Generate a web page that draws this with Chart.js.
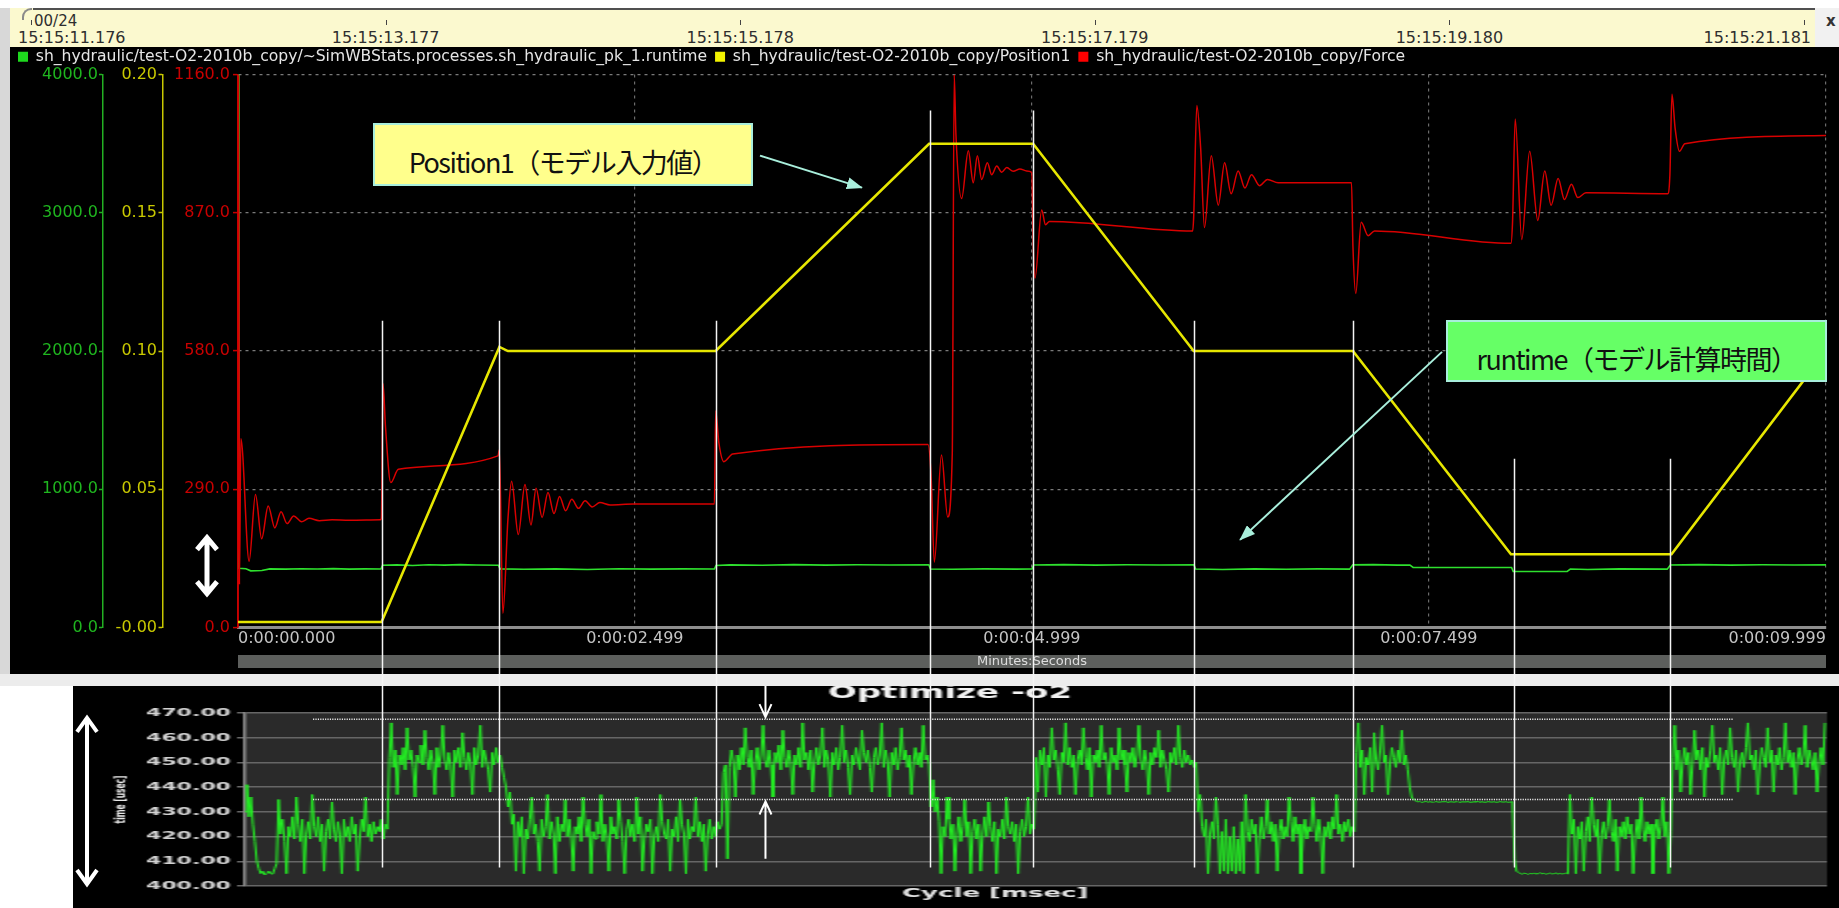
<!DOCTYPE html>
<html><head><meta charset="utf-8">
<script src="https://cdn.jsdelivr.net/npm/chart.js@4.4.1/dist/chart.umd.min.js"></script>
<style>
html,body{margin:0;padding:0;background:#fff;}
body{position:relative;width:1839px;height:908px;overflow:hidden;font-family:"DejaVu Sans",sans-serif;}
.abs{position:absolute;}
#leftstrip{left:0;top:8px;width:10px;height:666px;background:#d8d8d8;}
#nav{left:10px;top:8px;width:1805px;height:39px;background:#fbf9cf;z-index:3;overflow:hidden;}
#navline{left:23px;top:0;width:1782px;height:2px;background:#505050;}
#navcorner{left:12px;top:0;width:10px;height:12px;border-top:2px solid #8a8a8a;border-left:2px solid #8a8a8a;border-top-left-radius:9px;box-sizing:border-box;}
.navtick{top:12px;width:1px;height:5px;background:#444;}
.navlab{top:21px;font-size:16px;line-height:18px;color:#2e2e2e;white-space:nowrap;}
#navend{left:1815px;top:8px;width:24px;height:39px;background:#f1f1f1;z-index:3;}
#close{left:1826px;top:12px;font-weight:bold;font-size:15px;color:#333;z-index:4;}
#topcv{left:10px;top:41px;background:#000;z-index:1;}
#band{left:0;top:674px;width:1839px;height:12px;background:#ececec;z-index:4;}
#botcv{left:73px;top:676px;background:#000;transform:scaleX(2);transform-origin:0 0;z-index:2;}
#ov{left:0;top:0;z-index:5;pointer-events:none;}
.callout{position:absolute;z-index:6;box-sizing:border-box;border:2px solid #a8eedc;display:flex;align-items:center;justify-content:center;font-family:"Noto Sans CJK JP",sans-serif;font-size:27px;line-height:30px;color:#111;letter-spacing:-1.5px;white-space:nowrap;}
</style></head>
<body>
<div id="leftstrip" class="abs"></div>
<div id="nav" class="abs"><div id="navcorner" class="abs"></div><div id="navline" class="abs"></div></div>
<div id="navend" class="abs"></div>
<div id="close" class="abs">x</div>
<canvas id="topcv" class="abs" width="1829" height="633"></canvas>
<div id="band" class="abs"></div>
<canvas id="botcv" class="abs" width="883" height="232"></canvas>
<svg id="ov" class="abs" width="1839" height="908" xmlns="http://www.w3.org/2000/svg"></svg>
<div class="callout" style="left:373px;top:123px;width:380px;height:63px;background:#ffff8c;padding-top:14px;">Position1（モデル入力値）</div>
<div class="callout" style="left:1446px;top:320px;width:381px;height:62px;background:#66ff66;padding-top:16px;">runtime（モデル計算時間）</div>
<script>
// ---------- data ----------
const navTimes = [11.176, 13.177, 15.178, 17.179, 19.180, 21.181];
const navLabels = ['15:15:11.176', '15:15:13.177', '15:15:15.178', '15:15:17.179', '15:15:19.180', '15:15:21.181'];
const navCounter = '00/24';

const xTickValues = [0, 2.499, 4.999, 7.499, 9.999];
const xTickLabels = ['0:00:00.000', '0:00:02.499', '0:00:04.999', '0:00:07.499', '0:00:09.999'];

const runtimeLabel = 'sh_hydraulic/test-O2-2010b_copy/~SimWBStats.processes.sh_hydraulic_pk_1.runtime';
const positionLabel = 'sh_hydraulic/test-O2-2010b_copy/Position1';
const forceLabel = 'sh_hydraulic/test-O2-2010b_copy/Force';

// runtime (top chart, usec)
const rtT = [0,0.006,0.05,0.08,0.15,0.2,0.3,0.4,0.5,0.6,0.7,0.8,0.9,
  0.91,1.0,1.1,1.2,1.3,1.4,1.5,1.64,
  1.65,1.8,2.0,2.2,2.4,2.6,2.8,3.0,
  3.01,3.1,3.3,3.5,3.7,3.9,4.1,4.35,
  4.36,4.5,4.7,4.9,5.0,
  5.01,5.2,5.4,5.6,5.8,6.02,
  6.03,6.2,6.4,6.6,6.8,7.0,
  7.02,7.15,7.3,7.38,7.4,7.7,8.02,
  8.03,8.2,8.37,8.39,8.5,8.7,9.0,
  9.02,9.2,9.4,9.6,9.8,10.0];
const rtV = [4000,428,425,410,412,424,422,425,423,426,422,424,423,
  450,453,449,454,451,455,452,450,
  424,421,424,420,425,422,424,423,
  448,453,450,455,451,454,452,454,
  423,421,424,422,423,
  452,455,451,454,452,453,
  423,420,424,421,424,422,
  453,455,451,452,435,434,434,
  406,405,406,423,420,424,422,
  452,455,451,454,452,453];

// Position1
const posT = [0, 0.03, 0.904, 1.646, 1.7, 3.008, 4.352, 5.007, 6.018, 7.021, 8.016, 9.027, 10.0];
const posV = [0.002, 0.002, 0.002, 0.1015, 0.1, 0.1, 0.175, 0.175, 0.1, 0.1, 0.0265, 0.0265, 0.1];

// Force
const fT = [0,0.004,0.009,0.018,0.07,0.11,0.149,0.19,0.232,0.271,0.309,0.351,0.40,0.447,0.512,0.592,0.70,0.897,
  0.903,0.913,0.929,0.962,1.01,1.637,
  1.646,1.668,1.70,1.723,1.765,1.807,1.845,1.877,1.915,1.952,1.99,2.025,2.063,2.102,2.144,2.186,2.23,2.279,2.343,2.49,3.0,
  3.008,3.028,3.06,3.115,4.345,
  4.364,4.385,4.43,4.469,4.498,4.51,4.521,4.557,4.599,4.63,4.656,4.683,4.719,4.746,4.778,4.809,4.841,4.882,4.924,4.966,4.998,
  5.008,5.019,5.061,5.085,5.11,6.012,
  6.018,6.038,6.062,6.086,6.129,6.173,6.213,6.254,6.298,6.341,6.382,6.433,6.483,6.55,7.012,
  7.021,7.039,7.073,7.117,7.157,8.016,
  8.026,8.043,8.084,8.134,8.185,8.229,8.269,8.313,8.353,8.397,8.437,8.488,9.003,
  9.017,9.03,9.05,9.077,9.111,10.0];
const fV = [0,1160,90,396,139,279,186,255,209,243,218,234,222,229,224,226,225,226,
  230,512,420,304,332,360,
  373,30,228,307,195,300,215,292,231,283,239,275,245,269,250,266,253,262,257,259,259,
  454,388,348,364,384,
  322,137,362,232,366,1160,1034,900,1000,933,990,940,975,950,968,955,965,957,962,958,955,
  800,733,876,845,852,832,
  860,1095,1006,839,990,886,975,910,958,922,950,927,940,933,933,
  800,701,850,822,832,806,
  850,1067,814,999,854,958,886,942,898,930,902,912,910,
  950,1119,1047,999,1015,1032];

// bottom chart: runtime per cycle (usec), one value every 12.5 ms
const cycleStep = 0.0125;
const cycleUsec = [
  // 0.00 - 0.90 s
  430,441,428,436,425,418,410,407,405,406,404.5,405,406,405,404.8,407,409,
  435,421,427,418,405,424,420,428,419,436,425,418,427,405,421,426,419,437,424,420,428,418,425,406,422,427,419,434,423,418,426,421,405,427,420,424,418,428,421,425,406,419,427,422,436,420,425,418,426,421,424,422,427,419,425,423,
  // 0.91 - 1.66 s
  452,466,448,455,437,453,449,456,447,464,451,455,448,436,453,450,457,449,463,452,
  447,455,450,437,456,448,453,465,451,447,454,449,436,455,450,456,448,462,452,447,
  454,450,437,456,449,453,465,448,455,451,447,438,454,449,456,450,453,448,444,440,
  // 1.66 - 3.02 s
  432,438,425,429,406,426,420,428,405,423,419,427,436,421,425,418,406,427,420,424,
  437,419,426,421,405,428,418,425,422,435,420,427,419,406,424,421,428,418,436,425,
  420,427,405,422,419,426,421,437,418,425,420,406,428,421,424,419,435,426,418,405,
  423,427,420,425,418,436,421,428,406,419,425,422,427,405,420,424,418,437,426,421,
  419,427,406,423,420,428,418,435,425,421,405,427,419,424,422,436,420,426,418,425,
  406,421,427,419,424,420,426,423,425,
  // 3.02 - 4.33 s
  446,449,411,448,455,450,436,453,447,456,449,464,452,448,455,437,450,456,447,453,
  465,451,448,455,449,436,454,450,457,447,463,452,448,455,450,437,453,449,456,448,
  466,451,454,447,455,438,450,456,449,453,464,448,455,451,436,454,449,456,447,452,
  465,450,455,448,437,453,449,456,451,447,463,454,450,455,448,438,452,456,449,453,
  466,448,455,450,436,454,449,456,447,452,464,451,455,448,453,437,450,456,449,454,
  448,465,451,453,449,
  // 4.33 - 5.00 s
  432,443,430,436,426,405,424,420,436,427,419,425,406,421,428,418,424,435,420,426,
  405,422,427,419,425,406,421,428,420,434,424,418,426,405,423,420,427,419,436,424,
  421,426,418,425,405,422,427,420,424,436,421,425,423,
  // 5.00 - 6.02 s
  452,438,455,449,456,436,453,448,464,451,455,447,437,454,450,466,449,456,448,453,
  437,451,455,449,464,452,447,456,436,453,450,455,448,465,451,454,449,437,456,450,
  453,447,464,451,455,449,438,454,450,456,448,453,465,451,447,455,450,437,454,449,
  456,452,463,448,455,451,447,438,454,450,456,449,465,452,448,455,450,453,449,451,
  448,450,
  // 6.02 - 7.02 s
  430,437,424,420,427,405,421,426,419,436,425,405,422,406,427,405,420,406,424,405,
  419,406,426,405,437,422,418,427,421,425,405,420,428,419,424,435,421,426,418,425,
  406,422,427,419,424,420,436,426,418,428,421,425,405,420,427,419,424,422,436,425,
  418,427,421,405,424,420,426,419,428,423,437,421,425,418,426,422,427,420,424,422,
  // 7.02 - 7.38 s
  454,466,448,455,437,452,449,456,438,462,451,447,455,465,450,453,437,449,456,452,
  448,455,450,463,449,453,447,440,436,
  // 7.39 - 8.01 s
  435,434.5,434,434.2,433.8,434,434.3,433.9,434.1,434,433.8,434.2,434,433.9,434.1,434,434.3,433.8,434,434.1,
  433.9,434,434.2,433.8,434,434.1,433.9,434.2,434,433.8,434.1,434,434.3,433.9,434,434.1,433.8,434,434.2,433.9,
  434,434.1,433.8,434,434.2,433.9,434,434.1,433.8,434,434.1,
  // 8.02 - 8.36 s
  411,406,405.5,405,404.8,405.2,405,404.7,405.1,404.9,405.3,404.8,405,405.4,404.9,405.1,404.8,405,405.2,404.9,
  405,405.3,404.8,405.1,404.9,405,405.2,404.9,
  // 8.37 - 9.01 s
  437,421,427,405,424,419,426,406,422,428,418,436,425,420,427,405,421,426,419,424,
  435,422,418,427,406,424,420,426,419,428,421,425,405,420,427,419,436,423,418,426,
  421,425,405,422,427,419,424,436,420,426,405,422,
  // 9.02 - 10.0 s
  452,465,447,455,438,450,456,449,454,437,449,463,451,455,447,456,436,452,448,455,
  465,450,453,447,456,437,451,455,449,464,452,448,455,438,450,454,448,456,466,451,
  453,447,455,437,449,456,452,448,464,450,455,438,453,449,456,447,452,466,450,455,
  448,454,437,451,456,449,453,465,448,455,451,447,454,438,450,456,449,466
];

// annotation anchors
const markerTimes = [0.907, 1.644, 3.01, 4.36, 5.006, 6.02, 7.02, 8.035, 9.02];
const markerTopPos = [0.111, 0.111, 0.111, 0.187, 0.187, 0.111, 0.111, 0.061, 0.061];
const markerBottomUsec = 407.5;
const refLinesUsec = [467.5, 435];

// ---------- helpers ----------
const pts = (xs, ys) => xs.map((x, i) => ({x: x, y: ys[i]}));
Chart.defaults.font.family = '"DejaVu Sans", sans-serif';

// navigator bar
(function buildNav(){
  const nav = document.getElementById('nav');
  const x0 = 21, x1 = 1794;
  const px = t => x0 + (t - navTimes[0]) * (x1 - x0) / (navTimes[navTimes.length-1] - navTimes[0]);
  navTimes.forEach((t, i) => {
    const tk = document.createElement('div'); tk.className = 'abs navtick'; tk.style.left = px(t) + 'px'; nav.appendChild(tk);
    const lb = document.createElement('div'); lb.className = 'abs navlab'; lb.textContent = navLabels[i];
    if (i === 0) { lb.style.left = '8px'; }
    else if (i === navTimes.length - 1) { lb.style.left = (px(t) + 7) + 'px'; lb.style.transform = 'translateX(-100%)'; }
    else { lb.style.left = px(t) + 'px'; lb.style.transform = 'translateX(-50%)'; }
    nav.appendChild(lb);
  });
  const c = document.createElement('div'); c.className = 'abs'; c.textContent = navCounter;
  c.style.cssText = 'left:24px;top:5px;font-size:15px;line-height:17px;color:#2e2e2e;';
  nav.appendChild(c);
})();

// ---------- top chart ----------
const axisBarPlugin = {
  id: 'axisBar',
  beforeDraw(c) {
    const {ctx, chartArea: a} = c; const s = c.scales.x;
    ctx.save(); ctx.fillStyle = '#5d5f5d';
    ctx.fillRect(a.left, s.bottom - 19, a.right - a.left, 13);
    ctx.restore();
  }
};

const topChart = new Chart(document.getElementById('topcv'), {
  type: 'line',
  data: { datasets: [
    {label: runtimeLabel, data: pts(rtT, rtV), yAxisID: 'yG', borderColor: '#2ee02e', backgroundColor: '#1ed81e', borderWidth: 1.6, pointRadius: 0, order: 2},
    {label: positionLabel, data: pts(posT, posV), yAxisID: 'yY', borderColor: '#e6e600', backgroundColor: '#f2f200', borderWidth: 2.6, pointRadius: 0, order: 0},
    {label: forceLabel, data: pts(fT, fV), yAxisID: 'yR', borderColor: '#d80000', backgroundColor: '#ff0000', borderWidth: 1.5, pointRadius: 0, order: 1, cubicInterpolationMode: 'monotone'}
  ]},
  options: {
    responsive: false, animation: false, events: [],
    layout: {padding: {left: 0, right: 13, top: 0, bottom: 0}},
    elements: {line: {tension: 0}},
    plugins: {
      tooltip: {enabled: false},
      legend: {display: true, position: 'top', align: 'start',
        labels: {color: '#e6e6e6', font: {size: 15.6}, boxWidth: 10, boxHeight: 10, padding: 8,
          sort: (a, b) => a.datasetIndex - b.datasetIndex,
          generateLabels: ch => Chart.defaults.plugins.legend.labels.generateLabels(ch).map(l => Object.assign(l, {lineWidth: 0, strokeStyle: l.fillStyle}))}}
    },
    scales: {
      x: {type: 'linear', position: 'bottom', min: 0, max: 10,
        afterBuildTicks: s => { s.ticks = xTickValues.map(v => ({value: v})); },
        afterFit: s => { s.height = 46.5; },
        ticks: {autoSkip: false, maxRotation: 0, minRotation: 0, align: 'inner', color: '#c4c4c4', font: {size: 16}, padding: 2,
          callback: (v, i) => xTickLabels[i]},
        grid: {drawTicks: false, color: c => c.index === 0 ? 'rgba(0,0,0,0)' : '#6c6c6c', lineWidth: 1.2},
        border: {color: '#8e8e8e', width: 3, dash: [3, 4]},
        title: {display: true, text: 'Minutes:Seconds', color: '#dedede', font: {size: 13}, padding: {top: 0, bottom: 4.7}}
      },
      yG: {type: 'linear', position: 'left', weight: 3, min: 0, max: 4000,
        afterFit: s => { s.width = 93; },
        ticks: {stepSize: 1000, color: '#1fb51f', font: {size: 16}, padding: 1, callback: v => v.toFixed(1)},
        grid: {drawOnChartArea: false, drawTicks: true, tickLength: 4, tickColor: '#22b022', tickWidth: 1.5},
        border: {color: '#22b022', width: 1.5}
      },
      yY: {type: 'linear', position: 'left', weight: 2, min: 0, max: 0.2,
        afterFit: s => { s.width = 59.5; },
        ticks: {stepSize: 0.05, color: '#c8c800', font: {size: 16}, padding: 1.5, callback: v => (v === 0 ? '-0.00' : v.toFixed(2))},
        grid: {drawOnChartArea: false, drawTicks: true, tickLength: 4, tickColor: '#c8c800', tickWidth: 1.5},
        border: {color: '#c8c800', width: 1.5}
      },
      yR: {type: 'linear', position: 'left', weight: 1, min: 0, max: 1160,
        afterFit: s => { s.width = 75.5; },
        ticks: {stepSize: 290, color: '#c80000', font: {size: 16}, padding: 3, callback: v => v.toFixed(1)},
        grid: {drawOnChartArea: true, color: '#7a7a7a', lineWidth: 1.2, drawTicks: true, tickLength: 5, tickColor: '#c80000', tickWidth: 1.5},
        border: {color: '#c80000', width: 1.5, dash: [3, 4]}
      }
    }
  },
  plugins: [axisBarPlugin]
});

// ---------- bottom chart ----------
const plotBgPlugin = {
  id: 'plotBg',
  beforeDraw(c) {
    const {ctx, chartArea: a} = c;
    ctx.save(); ctx.fillStyle = '#2a2a2a';
    ctx.fillRect(a.left, a.top, a.right - a.left, a.bottom - a.top);
    ctx.restore();
  }
};
const botChart = new Chart(document.getElementById('botcv'), {
  type: 'line',
  data: { datasets: [
    {label: 'runtime', data: cycleUsec.map((v, i) => ({x: i * cycleStep, y: v})), borderColor: '#22f022', borderWidth: 1, pointRadius: 0, tension: 0}
  ]},
  options: {
    responsive: false, animation: false, events: [],
    layout: {padding: {left: 0, right: 6, top: 0, bottom: 0}},
    plugins: {
      legend: {display: false}, tooltip: {enabled: false},
      title: {display: true, text: 'Optimize -o2', color: '#f2f2f2', font: {size: 17, weight: 'bold'}, padding: {top: 7.3, bottom: 9.3}}
    },
    scales: {
      x: {type: 'linear', min: 0, max: 10, ticks: {display: false}, grid: {display: false}, border: {display: false},
        afterFit: s => { s.height = 22; },
        title: {display: true, text: 'Cycle [msec]         ', color: '#e2e2e2', font: {size: 13, weight: 'bold'}, padding: {top: 0, bottom: 6.7}}
      },
      y: {min: 400, max: 470,
        afterFit: s => { s.width = 86; },
        ticks: {stepSize: 10, color: '#d2d2d2', font: {size: 11, weight: 'bold'}, padding: 3, callback: v => v.toFixed(2)},
        grid: {color: '#666666', lineWidth: 1.5, tickLength: 4},
        border: {color: '#8a8a8a', width: 1.5},
        title: {display: true, text: 'time [usec]', color: '#e6e6e6', font: {size: 7.5, weight: 'bold'}, padding: {top: 20, bottom: 0}}
      }
    }
  },
  plugins: [plotBgPlugin]
});

// ---------- overlay annotations ----------
(function overlay(){
  const svg = document.getElementById('ov');
  const NS = 'http://www.w3.org/2000/svg';
  const xs = topChart.scales.x, yY = topChart.scales.yY, yG = topChart.scales.yG;
  const bx = botChart.scales.x, by = botChart.scales.y;
  const TX = t => 10 + xs.getPixelForValue(t);
  const TY = p => 41 + yY.getPixelForValue(p);
  const GY = v => 41 + yG.getPixelForValue(v);
  const BX = t => 73 + 2 * bx.getPixelForValue(t);
  const BY = v => 676 + by.getPixelForValue(v);
  const add = (tag, attrs) => { const e = document.createElementNS(NS, tag); for (const k in attrs) e.setAttribute(k, attrs[k]); svg.appendChild(e); return e; };

  const defs = add('defs', {});
  const m = document.createElementNS(NS, 'marker');
  [['id','ah'],['markerWidth','16'],['markerHeight','12'],['refX','15'],['refY','6'],['orient','auto'],['markerUnits','userSpaceOnUse']].forEach(([k,v]) => m.setAttribute(k, v));
  const mp = document.createElementNS(NS, 'path'); mp.setAttribute('d', 'M0,0 L16,6 L0,12 z'); mp.setAttribute('fill', '#a9efdc');
  m.appendChild(mp); defs.appendChild(m);

  markerTimes.forEach((t, i) => {
    const x = Math.round(TX(t)) + 0.5;
    add('line', {x1: x, x2: x, y1: TY(markerTopPos[i]), y2: BY(markerBottomUsec), stroke: '#f4f4f4', 'stroke-width': 1.5});
  });
  refLinesUsec.forEach(v => {
    const y = BY(v);
    add('line', {x1: BX(0.43), x2: BX(9.41), y1: y, y2: y, stroke: '#e8e8e8', 'stroke-width': 1.6, 'stroke-dasharray': '1.2 1.2'});
  });
  const dbl = (x, y1, y2, w, h, sw) => add('path', {d: `M${x},${y1 + 2} L${x},${y2 - 2} M${x - w},${y1 + h} L${x},${y1} L${x + w},${y1 + h} M${x - w},${y2 - h} L${x},${y2} L${x + w},${y2 - h}`, stroke: '#fff', 'stroke-width': sw, fill: 'none', 'stroke-linejoin': 'miter'});
  const single = (x, yTail, yTip, w, h, sw) => { const d = yTip > yTail ? -1 : 1; add('path', {d: `M${x},${yTail} L${x},${yTip} M${x - w},${yTip + d * h} L${x},${yTip} L${x + w},${yTip + d * h}`, stroke: '#fff', 'stroke-width': sw, fill: 'none'}); };
  dbl(topChart.chartArea.left + 10 - 31, GY(650), GY(245), 10, 12, 5);
  dbl(87, BY(468), BY(400.8), 10, 14, 4);
  const ax = BX(3.29);
  single(ax, 686, BY(467.5) - 2, 6, 13, 2);
  single(ax, BY(411), BY(435) + 2, 6, 13, 2);
  add('line', {x1: TX(3.287), y1: TY(0.1707), x2: TX(3.929), y2: TY(0.1591), stroke: '#a9efdc', 'stroke-width': 2, 'marker-end': 'url(#ah)'});
  add('line', {x1: TX(7.582), y1: TY(0.0997), x2: TX(6.31), y2: TY(0.0317), stroke: '#a9efdc', 'stroke-width': 2, 'marker-end': 'url(#ah)'});
})();
</script>
</body></html>
